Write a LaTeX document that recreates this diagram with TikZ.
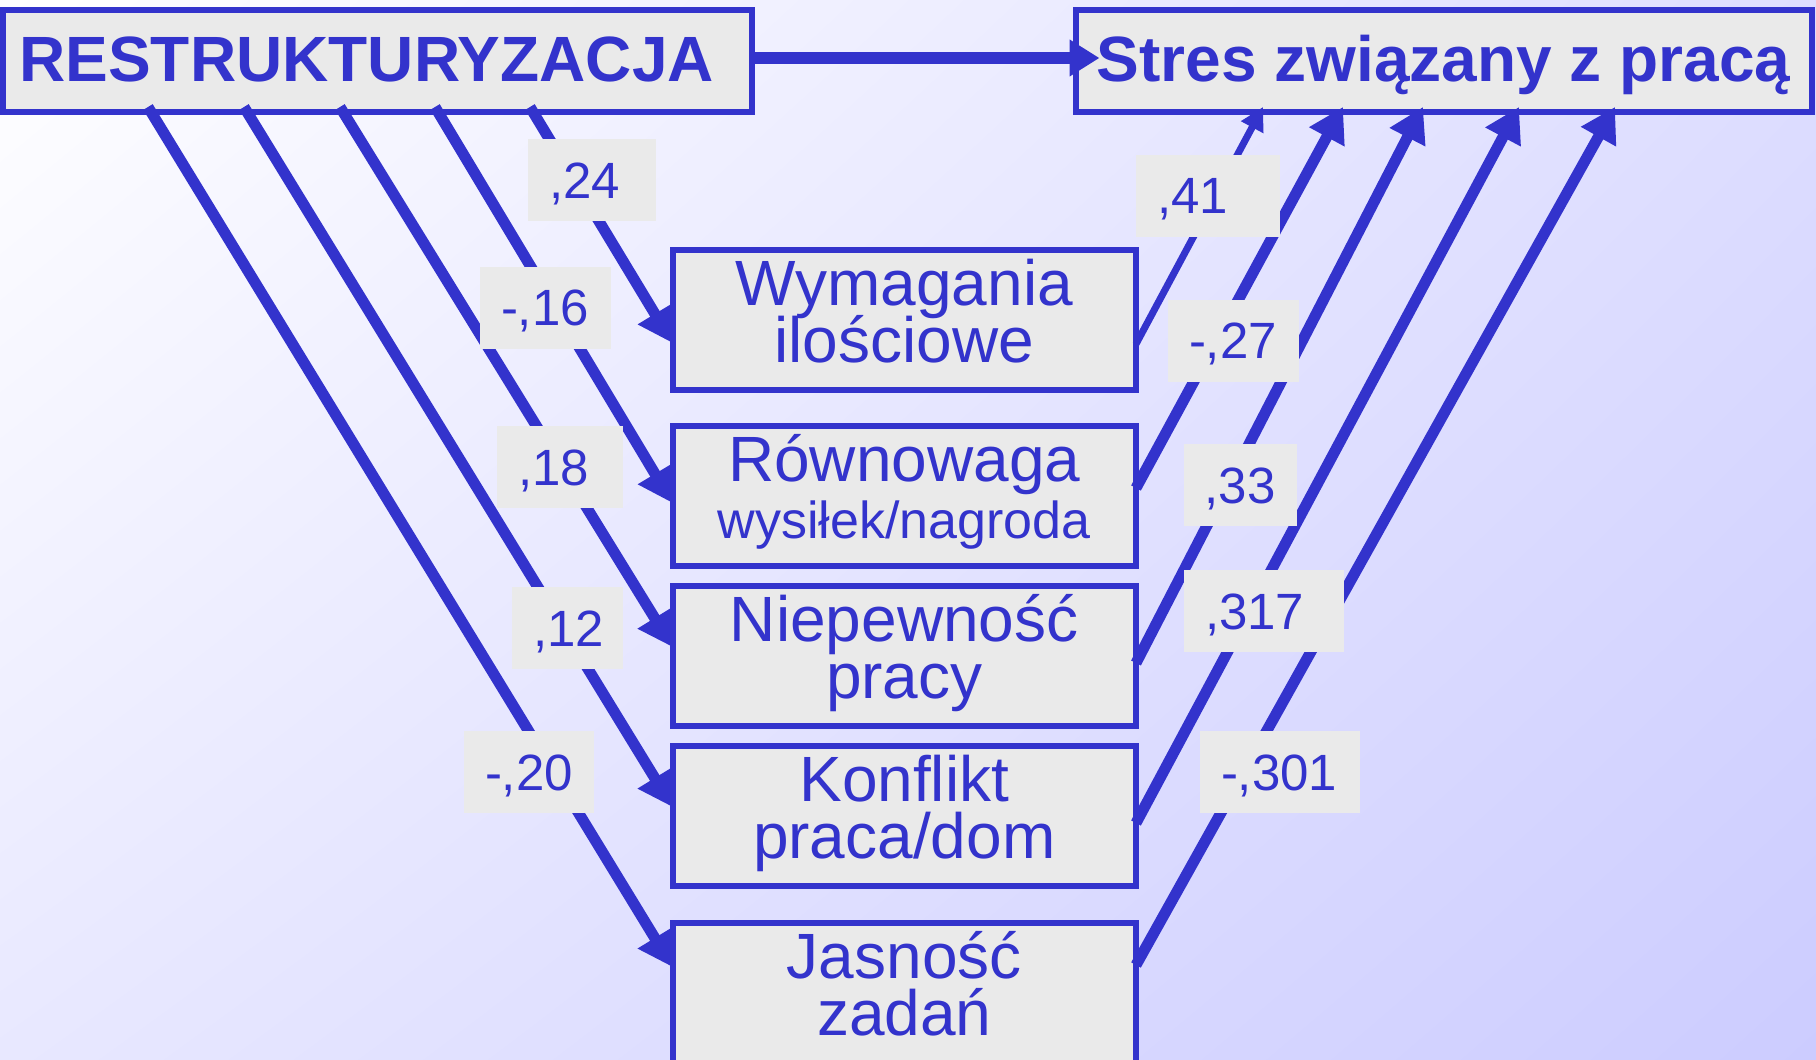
\documentclass[tikz,border=0pt]{standalone}
\usepackage{fontspec}
\setmainfont{Liberation Sans}
\usetikzlibrary{arrows.meta,shadings}
\definecolor{dblue}{RGB}{51,51,204}
\definecolor{boxgray}{RGB}{234,234,234}
\definecolor{bgTR}{RGB}{222,222,255}
\definecolor{bgBL}{RGB}{232,232,255}
\definecolor{bgBR}{RGB}{204,204,255}
\begin{document}
\begin{tikzpicture}[x=0.5pt,y=-0.5pt,
  topbox/.style={draw=dblue, fill=boxgray, line width=3pt, inner sep=0pt, outer sep=0pt,
    minimum height=51pt, text=dblue, font={\fontsize{32pt}{38pt}\selectfont\bfseries},
    text height=23.3pt, text depth=2.6pt},
  midbox/.style={draw=dblue, fill=boxgray, line width=3pt, inner sep=0pt, outer sep=0pt,
    minimum width=231.75pt, minimum height=70pt, text=dblue, align=center,
    font={\fontsize{32pt}{28.4pt}\selectfont\lineskiplimit=-100pt\lineskip=0pt},
    text height=42pt, text depth=0pt},
  lbl/.style={fill=boxgray, inner xsep=10.5pt, inner ysep=0pt, minimum height=41pt,
    text=dblue, font={\fontsize{25.5pt}{30pt}\selectfont\parindent=0pt}, align=left,
    text height=18.3pt, text depth=0pt},
  conn/.style={draw=dblue, line width=5.5pt, -{Triangle[length=17pt,width=19pt]}},
  thinconn/.style={draw=dblue, line width=3.5pt, -{Triangle[length=11.5pt,width=12pt]}},
  mainconn/.style={draw=dblue, line width=6pt, -{Triangle[length=15pt,width=17.5pt]}}
]
\useasboundingbox (0,0) rectangle (1816,1060);
\shade[upper left=white, upper right=bgTR, lower left=bgBL, lower right=bgBR]
  (0,0) rectangle (1816,1060);

% top boxes
\node[topbox, minimum width=374.75pt] (tl) at (377.25,61) {RESTRUKTURYZACJA\kern10.6pt};
\node[topbox, minimum width=368.25pt] (tr) at (1443.75,61) {Stres związany z pracą};

% middle boxes
\node[midbox] (m1) at (904.25,320) {Wymagania\\ilościowe};
\node[midbox] (m2) at (904.25,496) {Równowaga\\{\fontsize{26pt}{28.4pt}\selectfont wysiłek/nagroda}};
\node[midbox] (m3) at (904.25,656) {Niepewność\\pracy};
\node[midbox] (m4) at (904.25,816) {Konflikt\\praca/dom};
\node[midbox] (m5) at (904.25,993) {Jasność\\zadań};

% main arrow
\draw[mainconn] ([yshift=1.5pt]tl.east) -- ([xshift=12pt,yshift=1.5pt]tr.west);

% left arrows
\draw[conn] ([xshift=263.75pt,yshift=2.5pt]tl.south west) -- ([yshift=-46.5pt]m1.north west);
\draw[conn] ([xshift=216.25pt,yshift=2.5pt]tl.south west) -- ([yshift=-38.5pt]m2.north west);
\draw[conn] ([xshift=168.75pt,yshift=2.5pt]tl.south west) -- ([yshift=-30.5pt]m3.north west);
\draw[conn] ([xshift=120.75pt,yshift=2.5pt]tl.south west) -- ([yshift=-30.5pt]m4.north west);
\draw[conn] ([xshift=72.75pt,yshift=2.5pt]tl.south west) -- ([yshift=-22pt]m5.north west);

% right arrows
\draw[thinconn] ([yshift=-47pt]m1.north east) -- ([xshift=93.75pt,yshift=2.5pt]tr.south west);
\draw[conn] ([yshift=-31pt]m2.north east) -- ([xshift=133.75pt,yshift=2.5pt]tr.south west);
\draw[conn] ([yshift=-38.5pt]m3.north east) -- ([xshift=173.75pt,yshift=2.5pt]tr.south west);
\draw[conn] ([yshift=-38.5pt]m4.north east) -- ([xshift=221.75pt,yshift=2.5pt]tr.south west);
\draw[conn] ([yshift=-21pt]m5.north east) -- ([xshift=269.75pt,yshift=2.5pt]tr.south west);

% labels
\node[lbl, text width=43pt] (l1) at (592,180) {,24};
\node[lbl, text width=44.5pt] (l2) at (545.5,307.5) {-,16};
\node[lbl, text width=42pt] (l3) at (560,467) {,18};
\node[lbl, text width=34.5pt] (l4) at (567.5,628) {,12};
\node[lbl, text width=44pt] (l5) at (529,772) {-,20};
\node[lbl, text width=51pt] (r1) at (1208,195.5) {,41};
\node[lbl, text width=44.5pt] (r2) at (1233.5,340.5) {-,27};
\node[lbl, text width=35.5pt] (r3) at (1240,485) {,33};
\node[lbl, text width=59pt] (r4) at (1264,611) {,317};
\node[lbl, text width=59pt] (r5) at (1280,772) {-,301};
\end{tikzpicture}
\end{document}
